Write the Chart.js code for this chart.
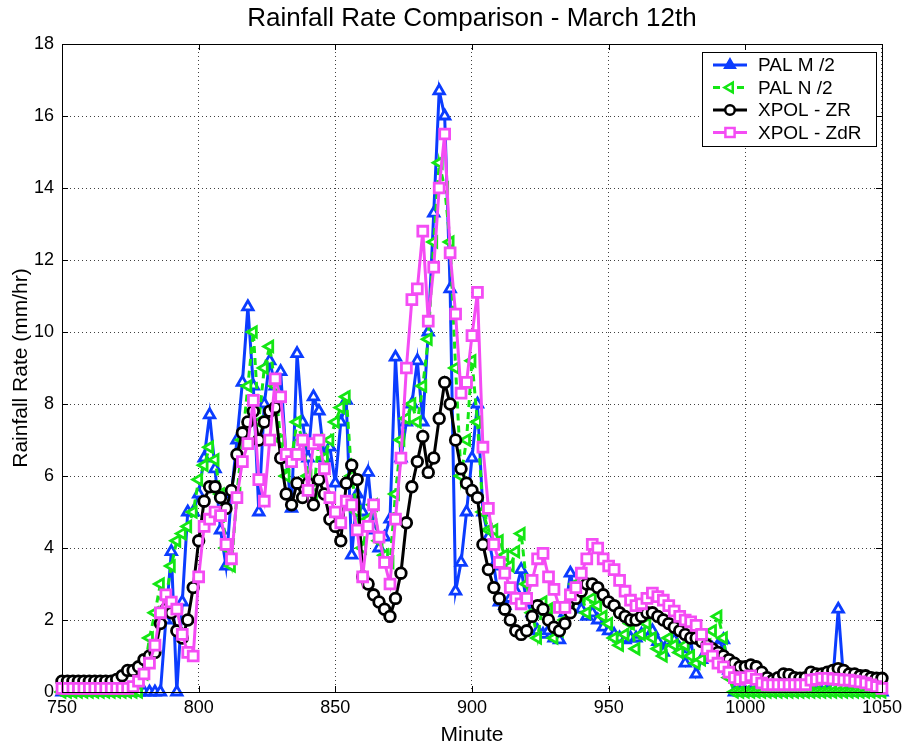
<!DOCTYPE html>
<html>
<head>
<meta charset="utf-8">
<title>Rainfall Rate Comparison</title>
<script src="https://cdn.jsdelivr.net/npm/chart.js@4.4.0/dist/chart.umd.min.js"></script>
<style>
  html, body { margin: 0; padding: 0; background: #fff; }
  #wrap { width: 907px; height: 752px; }
</style>
</head>
<body>
<div id="wrap"><canvas id="rainChart" width="907" height="752"></canvas></div>
<script>
// minutes sampled every 2 min, 750 .. 1050
const minutes = [];
for (let m = 750; m <= 1050; m += 2) minutes.push(m);

const xTicks = [750, 800, 850, 900, 950, 1000, 1050];
const yTicks = [0, 2, 4, 6, 8, 10, 12, 14, 16, 18];

const seriesNames = ["PAL M /2", "PAL N /2", "XPOL - ZR", "XPOL - ZdR"];

const palM = [
  0, 0, 0, 0, 0, 0, 0, 0, 0, 0,
  0, 0, 0, 0, 0, 0, 0, 0, 0, 2.0,
  3.9, 0, 2.5, 5.0, 5.0, 5.5, 6.5, 7.7, 6.2, 4.5,
  3.5, 5.5, 7.0, 8.6, 10.7, 8.5, 5.0, 8.0, 9.2, 8.5,
  8.9, 6.5, 5.1, 9.4, 7.5, 6.5, 8.2, 7.8, 6.5, 6.8,
  5.8, 7.5, 8.1, 3.8, 5.5, 5.0, 6.1, 4.5, 4.0, 4.3,
  4.8, 9.3, 6.5, 7.5, 8.0, 9.2, 7.5, 10.0, 13.3, 16.7,
  16.0, 11.2, 2.8, 3.6, 5.0, 6.5, 8.0, 5.0, 4.3, 3.5,
  2.5, 2.4, 2.6, 2.8, 3.4, 2.5, 2.2, 1.7, 1.6, 1.7,
  1.5, 1.45, 2.2, 3.3, 2.6, 2.3, 2.1, 2.2, 2.0, 1.8,
  1.7, 1.6, 1.5, 1.45, 1.5, 1.5, 1.6, 1.7, 1.7, 1.4,
  1.1, 1.4, 1.45, 1.2, 0.8, 1.45, 0.5, 0.9, 1.0, 1.2,
  1.3, 1.45, 0.6, 0, 0, 0, 0, 0, 0, 0,
  0, 0, 0, 0, 0, 0, 0, 0, 0, 0,
  0, 0.3, 2.3, 0.3, 0, 0, 0, 0, 0, 0,
  0
];

const palN = [
  0, 0, 0, 0, 0, 0, 0, 0, 0, 0,
  0, 0, 0, 0, 0, 0.5, 1.5, 2.2, 3.0, 2.6,
  3.5, 4.2, 4.4, 4.6, 5.0, 5.9, 6.3, 6.8, 6.45, 5.5,
  4.0, 3.5, 5.5, 7.0, 8.5, 10.0, 7.5, 9.0, 9.6, 8.5,
  7.0, 6.0, 6.5, 7.5, 7.0, 6.0, 5.5, 7.0, 6.5, 7.0,
  7.5, 7.9, 8.2, 6.0, 5.0, 4.0, 4.8, 5.2, 4.2, 3.8,
  3.6, 5.5, 7.0, 7.6, 8.0, 7.5, 8.5, 9.8, 12.5, 14.7,
  14.0, 12.5, 9.0, 6.0, 7.0, 9.2, 7.5, 5.0, 4.5, 4.5,
  4.2, 3.8, 3.5, 3.9, 4.4, 3.0, 2.2, 1.5, 2.5, 2.3,
  1.5, 1.7, 2.0, 2.5, 3.0, 2.7, 2.2, 2.6, 2.4, 2.1,
  1.9, 1.5, 1.3, 1.6, 1.9, 1.2, 1.6, 1.9, 1.5, 1.2,
  1.0, 1.5, 1.3, 1.1, 1.3, 1.0, 0.8, 0.9, 1.3, 1.7,
  2.1, 1.5, 0.4, 0, 0, 0, 0, 0, 0, 0,
  0, 0, 0, 0, 0, 0, 0, 0, 0, 0,
  0, 0, 0, 0, 0, 0, 0, 0, 0, 0,
  0
];

const xpolZR = [
  0.3, 0.3, 0.3, 0.3, 0.3, 0.3, 0.3, 0.3, 0.3, 0.3,
  0.35, 0.45, 0.6, 0.6, 0.7, 0.9, 1.0, 1.1, 1.9, 2.3,
  2.2, 1.7, 1.5, 2.0, 2.9, 4.2, 5.3, 5.7, 5.7, 5.4,
  5.1, 5.6, 6.6, 7.2, 7.5, 7.8, 7.0, 7.5, 7.8, 7.9,
  6.5, 5.5, 5.2, 5.8, 5.4, 5.8, 5.2, 5.9, 5.5, 4.8,
  4.6, 4.2, 5.8, 6.3, 5.9, 3.2, 3.0, 2.7, 2.5, 2.3,
  2.1, 2.6, 3.3, 4.7, 5.7, 6.4, 7.1, 6.1, 6.5, 7.6,
  8.6, 8.0, 7.0, 6.2, 5.8, 5.6, 5.4, 4.1, 3.4, 2.9,
  2.6, 2.3, 2.0, 1.7, 1.6, 1.7, 2.1, 2.4, 2.3, 2.0,
  1.8, 1.7, 1.9, 2.2, 2.6, 2.8, 3.0, 3.0, 2.9, 2.7,
  2.5, 2.4, 2.2, 2.1, 2.0, 2.0, 2.1, 2.2, 2.2, 2.1,
  2.0, 1.9, 1.8, 1.7, 1.6, 1.5, 1.5, 1.4, 1.3, 1.2,
  1.1, 1.0, 0.9, 0.8, 0.7, 0.7, 0.75, 0.7, 0.55, 0.4,
  0.33, 0.4, 0.5, 0.48, 0.4, 0.38, 0.4, 0.55, 0.5, 0.5,
  0.55, 0.6, 0.65, 0.6, 0.5, 0.5, 0.45, 0.45, 0.4, 0.38,
  0.38
];

const xpolZdR = [
  0.1, 0.1, 0.1, 0.1, 0.1, 0.1, 0.1, 0.1, 0.1, 0.1,
  0.1, 0.1, 0.1, 0.15, 0.3, 0.5, 0.8, 1.3, 2.2, 2.7,
  2.5, 2.3, 1.6, 1.1, 1.0, 3.2, 4.6, 4.8, 5.0, 4.9,
  4.1, 3.7, 5.4, 6.4, 6.9, 8.1, 5.9, 5.3, 7.0, 8.7,
  8.2, 6.6, 6.4, 6.6, 7.0, 5.6, 6.9, 7.0, 6.2, 5.4,
  5.0, 4.7, 5.3, 5.2, 4.5, 3.2, 4.6, 5.2, 4.3, 3.6,
  3.0, 4.8, 6.5, 9.0, 10.9, 11.2, 12.8, 10.3, 11.8, 14.0,
  15.5, 12.2, 10.5, 8.3, 8.6, 9.9, 11.1, 6.8, 5.1, 4.1,
  3.6, 3.3, 2.9, 2.6, 2.45, 2.6, 3.1, 3.7, 3.85, 3.2,
  2.85, 2.35, 2.35, 2.7, 2.9, 3.3, 3.7, 4.1, 4.0, 3.7,
  3.5, 3.4, 3.1, 2.8, 2.55, 2.4, 2.45, 2.6, 2.75, 2.65,
  2.55, 2.4, 2.25, 2.1, 2.0, 1.95, 1.85, 1.6, 1.2, 1.0,
  0.8, 0.7, 0.55, 0.4, 0.35, 0.4, 0.45, 0.35, 0.25, 0.2,
  0.2, 0.2, 0.2, 0.2, 0.2, 0.2, 0.2, 0.33, 0.35, 0.38,
  0.38, 0.36, 0.35, 0.33, 0.33, 0.3, 0.28, 0.25, 0.2, 0.15,
  0.1
];

const colors = ["#0b3cff", "#14e614", "#000000", "#f44cf4"];
const FONT = "'Liberation Sans', Arial, sans-serif";

const toPoints = (vals) => vals.map((v, i) => ({ x: minutes[i], y: v }));

// draws a marker shape (used for the legend samples)
function marker(ctx, style, x, y, r) {
  ctx.beginPath();
  if (style === "triangle") {
    ctx.moveTo(x, y - r);
    ctx.lineTo(x + r * 0.866, y + r * 0.5);
    ctx.lineTo(x - r * 0.866, y + r * 0.5);
    ctx.closePath();
  } else if (style === "triangleLeft") {
    ctx.moveTo(x - r, y);
    ctx.lineTo(x + r * 0.5, y - r * 0.866);
    ctx.lineTo(x + r * 0.5, y + r * 0.866);
    ctx.closePath();
  } else if (style === "circle") {
    ctx.arc(x, y, r, 0, Math.PI * 2);
  } else {
    const s = r * Math.SQRT1_2;
    ctx.rect(x - s, y - s, s * 2, s * 2);
  }
  ctx.fill();
  ctx.stroke();
}

const frame = {
  id: "frame",
  afterDraw(chart) {
    const ctx = chart.ctx;
    const a = chart.chartArea;
    const xs = chart.scales.x, ys = chart.scales.y;
    ctx.save();

    // box and inward tick marks
    ctx.strokeStyle = "#000";
    ctx.lineWidth = 1;
    ctx.strokeRect(a.left + 0.5, a.top + 0.5, a.right - a.left, a.bottom - a.top);
    ctx.beginPath();
    xTicks.forEach(t => {
      const px = Math.round(xs.getPixelForValue(t)) + 0.5;
      ctx.moveTo(px, a.bottom); ctx.lineTo(px, a.bottom - 6);
      ctx.moveTo(px, a.top); ctx.lineTo(px, a.top + 6);
    });
    yTicks.forEach(t => {
      const py = Math.round(ys.getPixelForValue(t)) + 0.5;
      ctx.moveTo(a.left, py); ctx.lineTo(a.left + 6, py);
      ctx.moveTo(a.right, py); ctx.lineTo(a.right - 6, py);
    });
    ctx.stroke();

    // title and axis labels
    ctx.fillStyle = "#000";
    ctx.textAlign = "center";
    ctx.textBaseline = "middle";
    ctx.font = "26px " + FONT;
    ctx.fillText("Rainfall Rate Comparison - March 12th", (a.left + a.right) / 2, 19);
    ctx.font = "21px " + FONT;
    ctx.fillText("Minute", (a.left + a.right) / 2, 735);
    ctx.save();
    ctx.translate(21, (a.top + a.bottom) / 2);
    ctx.rotate(-Math.PI / 2);
    ctx.fillText("Rainfall Rate (mm/hr)", 0, 0);
    ctx.restore();

    // legend
    const lx = 702, ly = 52, lw = 174, lh = 94;
    ctx.fillStyle = "#fff";
    ctx.fillRect(lx, ly, lw, lh);
    ctx.strokeRect(lx + 0.5, ly + 0.5, lw, lh);
    chart.data.datasets.forEach((ds, i) => {
      const y = ly + 13 + i * 22.5;
      ctx.strokeStyle = ds.borderColor;
      ctx.lineWidth = 3;
      ctx.setLineDash(ds.borderDash || []);
      ctx.beginPath();
      ctx.moveTo(lx + 11, y);
      ctx.lineTo(lx + 45, y);
      ctx.stroke();
      ctx.setLineDash([]);
      ctx.fillStyle = i === 0 ? ds.borderColor : "#fff";
      ctx.lineWidth = 2.5;
      marker(ctx, ds.legendMarker, lx + 28, y, ds.pointRadius - 0.5);
      ctx.fillStyle = "#000";
      ctx.textAlign = "left";
      ctx.font = "19px " + FONT;
      ctx.fillText(ds.label, lx + 56, y + 1);
    });
    ctx.restore();
  }
};

const styles = [
  { pointStyle: "triangle", rot: 0, radius: 6, dash: [], legendMarker: "triangle" },
  { pointStyle: "triangle", rot: -90, radius: 6, dash: [7, 5], legendMarker: "triangleLeft" },
  { pointStyle: "circle", rot: 0, radius: 5.3, dash: [], legendMarker: "circle" },
  { pointStyle: "rect", rot: 0, radius: 7, dash: [], legendMarker: "rect" }
];
const values = [palM, palN, xpolZR, xpolZdR];

const datasets = values.map((vals, i) => ({
  label: seriesNames[i],
  data: toPoints(vals),
  borderColor: colors[i],
  backgroundColor: colors[i],
  borderWidth: 3,
  borderDash: styles[i].dash,
  pointStyle: styles[i].pointStyle,
  pointRotation: styles[i].rot,
  pointRadius: styles[i].radius,
  pointBorderWidth: 2.8,
  pointBorderColor: colors[i],
  pointBackgroundColor: "#fff",
  legendMarker: styles[i].legendMarker,
  tension: 0,
  clip: 8,
  order: 4 - i
}));

const ctx = document.getElementById("rainChart").getContext("2d");
const rainChart = new Chart(ctx, {
  type: "line",
  data: { datasets: datasets },
  options: {
    responsive: false,
    animation: false,
    devicePixelRatio: 1,
    layout: { padding: { left: 0, top: 44, right: 19, bottom: 0 } },
    plugins: { legend: { display: false }, tooltip: { enabled: false } },
    scales: {
      x: {
        type: "linear",
        min: 750,
        max: 1050,
        afterFit: (s) => { s.height = 60; },
        afterBuildTicks: (s) => { s.ticks = xTicks.map(v => ({ value: v })); },
        ticks: { color: "#000", padding: 5, font: { family: FONT, size: 18 }, callback: (v) => String(v) },
        grid: { color: "rgba(0,0,0,0.75)", lineWidth: 1, drawTicks: false },
        border: { display: false, dash: [1, 3] }
      },
      y: {
        min: 0,
        max: 18,
        afterFit: (s) => { s.width = 62; },
        afterBuildTicks: (s) => { s.ticks = yTicks.map(v => ({ value: v })); },
        ticks: { color: "#000", padding: 8, font: { family: FONT, size: 18 }, callback: (v) => String(v) },
        grid: { color: "rgba(0,0,0,0.75)", lineWidth: 1, drawTicks: false },
        border: { display: false, dash: [1, 3] }
      }
    }
  },
  plugins: [frame]
});
</script>
</body>
</html>
